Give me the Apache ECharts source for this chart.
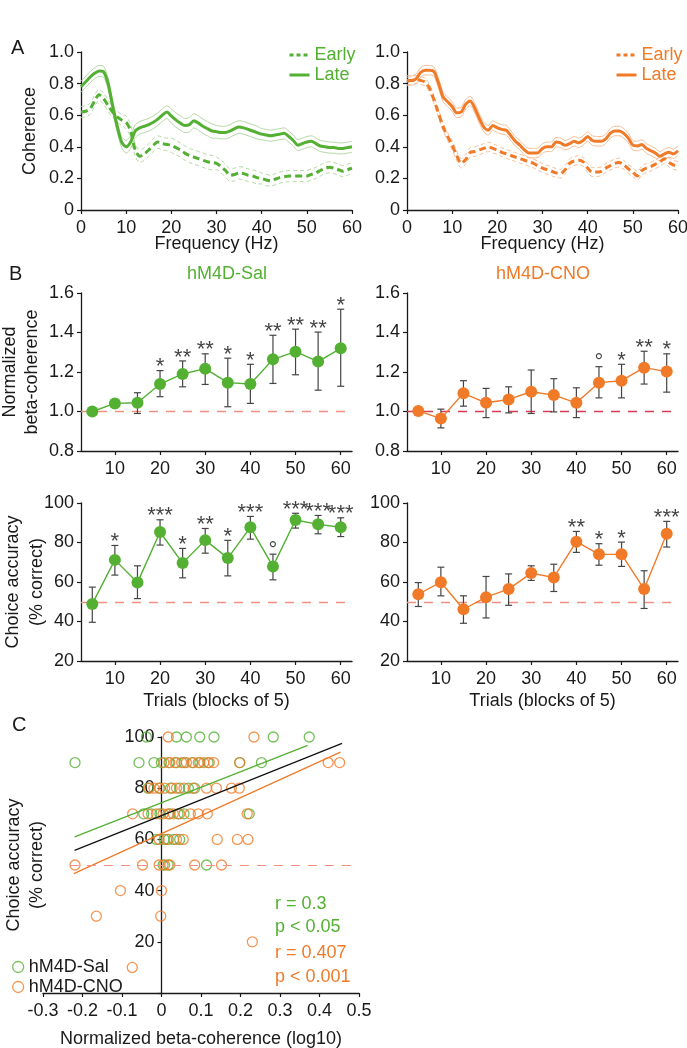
<!DOCTYPE html>
<html><head><meta charset="utf-8">
<script src="https://cdn.jsdelivr.net/npm/echarts@6/dist/echarts.min.js"></script>
<style>html,body{margin:0;padding:0;background:#fff}#c{width:687px;height:1048px}</style>
</head><body><div id="c"></div><script>
// ---------------- DATA ----------------
// Panel A: coherence spectra, 0..60 Hz in 1 Hz steps
const freqs = Array.from({length: 61}, (_, i) => i);
const salLate = [0.78,0.81,0.84,0.865,0.88,0.875,0.80,0.66,0.53,0.43,0.40,0.43,0.50,0.52,0.53,0.54,0.555,0.575,0.60,0.62,0.595,0.57,0.55,0.535,0.54,0.565,0.55,0.53,0.515,0.50,0.495,0.49,0.49,0.50,0.515,0.525,0.52,0.51,0.50,0.49,0.48,0.475,0.47,0.475,0.48,0.485,0.465,0.44,0.41,0.42,0.43,0.435,0.42,0.405,0.40,0.395,0.395,0.39,0.39,0.395,0.40];
const salEarly = [0.62,0.625,0.64,0.69,0.73,0.705,0.66,0.62,0.59,0.57,0.555,0.50,0.38,0.34,0.355,0.38,0.41,0.43,0.42,0.415,0.41,0.395,0.38,0.36,0.345,0.335,0.325,0.315,0.305,0.30,0.295,0.275,0.25,0.22,0.225,0.235,0.23,0.22,0.215,0.205,0.20,0.19,0.185,0.195,0.205,0.21,0.215,0.215,0.215,0.215,0.215,0.225,0.235,0.25,0.265,0.27,0.265,0.255,0.245,0.255,0.265];
const cnoLate = [0.82,0.82,0.83,0.87,0.885,0.885,0.875,0.80,0.715,0.685,0.655,0.615,0.62,0.67,0.69,0.645,0.58,0.525,0.505,0.535,0.52,0.51,0.505,0.47,0.435,0.41,0.38,0.36,0.36,0.362,0.39,0.40,0.40,0.43,0.425,0.41,0.42,0.435,0.425,0.44,0.465,0.44,0.435,0.435,0.45,0.485,0.50,0.50,0.485,0.455,0.41,0.405,0.415,0.39,0.375,0.36,0.34,0.355,0.365,0.355,0.375];
const cnoEarly = [0.815,0.82,0.825,0.82,0.81,0.77,0.695,0.61,0.525,0.465,0.41,0.345,0.295,0.32,0.365,0.37,0.38,0.39,0.40,0.39,0.38,0.365,0.355,0.345,0.335,0.325,0.315,0.305,0.295,0.28,0.265,0.255,0.245,0.235,0.23,0.255,0.295,0.31,0.315,0.305,0.265,0.24,0.24,0.245,0.265,0.28,0.295,0.30,0.285,0.26,0.24,0.215,0.25,0.265,0.275,0.29,0.305,0.325,0.30,0.285,0.28];
// SEM half-widths of the envelopes, one value per 10 Hz band (0-9, 10-19, ... 60)
const semSalLate  = [0.035,0.04,0.045,0.04,0.035,0.035,0.035];
const semSalEarly = [0.035,0.04,0.045,0.04,0.035,0.035,0.035];
const semCnoLate  = [0.03,0.03,0.03,0.03,0.03,0.03,0.03];
const semCnoEarly = [0.025,0.03,0.028,0.028,0.028,0.028,0.028];

// Panel B: trial blocks
const trials = [5,10,15,20,25,30,35,40,45,50,55,60];
const chanceBeta = 1.0;
const chanceAcc = 50;
const salBeta   = [1.0,1.041,1.044,1.139,1.19,1.217,1.146,1.139,1.264,1.303,1.253,1.32];
const salBetaLo = [null,null,0.99,1.075,1.125,1.137,1.024,1.041,1.142,1.186,1.108,1.128];
const salBetaHi = [null,null,1.095,1.207,1.256,1.292,1.27,1.239,1.386,1.417,1.402,1.518];
const salBetaSig = ['','','','*','**','**','*','*','**','**','**','*'];
const cnoBeta   = [1.003,0.964,1.092,1.044,1.061,1.10,1.083,1.044,1.146,1.156,1.222,1.202];
const cnoBetaLo = [null,0.917,1.027,0.969,0.993,0.99,0.998,0.969,1.069,1.069,1.139,1.098];
const cnoBetaHi = [null,1.012,1.156,1.117,1.125,1.21,1.166,1.12,1.227,1.239,1.305,1.292];
const cnoBetaSig = ['','','','','','','','','°','*','**','*'];
const salAcc   = [48.9,71.2,59.7,85.3,69.6,81.2,72.1,87.7,67.9,91.4,89.2,87.7];
const salAccLo = [39.6,63.5,51.6,78.7,62.1,74.6,63.1,81.7,61.1,87.3,84.4,83.0];
const salAccHi = [57.4,78.5,68.2,91.5,77.0,87.1,81.1,93.2,74.1,94.8,93.7,92.5];
const salAccSig = ['','*','','***','*','**','*','***','°','***','***','***'];
const cnoAcc   = [53.8,59.9,46.2,52.3,56.4,64.5,62.3,80.4,74.0,74.0,56.4,84.4];
const cnoAccLo = [47.6,53.0,39.1,41.8,48.2,60.8,55.2,75.0,68.5,67.9,46.6,77.7];
const cnoAccHi = [59.7,67.5,53.0,62.8,64.1,68.2,69.0,85.6,79.4,80.2,65.7,90.7];
const cnoAccSig = ['','','','','','','','**','*','*','','***'];
const trialTicks = [10,20,30,40,50,60];

// Panel C: scatter of normalized beta-coherence (log10) vs choice accuracy
const salCohX = [-0.038,0.038,0.063,0.097,0.133,0.283,0.374,
  -0.219,-0.057,-0.019,0.0,0.019,0.038,0.057,0.078,0.097,0.118,0.198,0.253,
  -0.034,-0.004,0.023,0.046,0.068,0.084,
  -0.045,-0.025,-0.004,0.021,0.042,0.057,0.222,
  -0.013,0.007,0.017,0.031,0.046,
  0.004,0.017,0.114];
const salAccY = [100,100,100,100,100,100,100,
  90,90,90,90,90,90,90,90,90,90,90,90,
  80,80,80,80,80,80,
  70,70,70,70,70,70,70,
  60,60,60,60,60,
  50,50,50];
const cnoCohX = [0.017,0.234,
  0.006,0.021,0.034,0.051,0.063,0.08,0.093,0.107,0.121,0.132,0.198,0.422,0.451,
  -0.031,-0.019,-0.006,0.008,0.027,0.038,0.057,0.08,0.114,0.139,0.177,0.197,
  -0.073,-0.034,-0.013,0.004,0.017,0.03,0.046,0.073,0.093,0.116,0.217,
  -0.006,0.013,0.038,0.055,0.141,0.192,0.219,
  -0.219,-0.048,-0.006,0.008,0.021,0.084,0.152,
  -0.104,0.0,-0.165,-0.002,0.23,-0.074];
const cnoAccY = [100,100,
  90,90,90,90,90,90,90,90,90,90,90,90,90,
  80,80,80,80,80,80,80,80,80,80,80,80,
  70,70,70,70,70,70,70,70,70,70,70,
  60,60,60,60,60,60,60,
  50,50,50,50,50,50,50,
  40,40,30,30,20,10];
const fitSalX = [-0.22, 0.37],  fitSalY = [61.0, 96.7];
const fitAllX = [-0.22, 0.457], fitAllY = [55.7, 97.5];
const fitCnoX = [-0.222, 0.453], fitCnoY = [46.6, 94.1];
const chanceLineX = [-0.232, 0.5];
const statsSal = ['r = 0.3', 'p < 0.05'];
const statsCno = ['r = 0.407', 'p < 0.001'];

// ---------------- STYLE ----------------
const GREEN = '#53b032', ORANGE = '#f07a28';
const GREEN_L = '#b4d8a5', ORANGE_L = '#f5bd96';
const SALMON = '#f0907f', CRIMSON = '#d53b52';
const INK = '#1a1a1a', ERR = '#454545';
const FONT = '"Liberation Sans", Arial, Helvetica, sans-serif';
const FS = 18;

const G = {
  aL: {left: 81, top: 52, width: 271, height: 158},
  aR: {left: 407, top: 52, width: 271, height: 158},
  b1L: {left: 81, top: 293, width: 271, height: 158},
  b1R: {left: 407, top: 293, width: 271, height: 158},
  b2L: {left: 81, top: 503, width: 271, height: 158},
  b2R: {left: 407, top: 503, width: 271, height: 158},
  c: {left: 43, top: 737, width: 316, height: 256}
};
const grids = [G.aL, G.aR, G.b1L, G.b1R, G.b2L, G.b2R, G.c].map(g => Object.assign({outerBoundsMode: 'none', containLabel: false}, g));
const cXMin = -0.3, cXMax = 0.5;
// y axis of panel C sits at x = 0 of its value axis
const cYAxisShift = -G.c.width * (0 - cXMin) / (cXMax - cXMin);

function baseAxis(gi, extra) {
  return Object.assign({
    type: 'value', gridIndex: gi, nameMoveOverlap: false,
    axisLine: {show: true, onZero: false, lineStyle: {color: INK, width: 1.3}},
    axisTick: {show: true, length: 4, lineStyle: {color: INK, width: 1.2}},
    axisLabel: {color: INK, fontSize: FS, fontFamily: FONT, margin: 7},
    splitLine: {show: false},
    nameTextStyle: {color: INK, fontSize: FS, fontFamily: FONT}
  }, extra);
}
const fmt1 = v => (v === 0 ? '0' : v.toFixed(1));

const xAxes = [
  baseAxis(0, {min: 0, max: 60, interval: 10, name: 'Frequency (Hz)', nameLocation: 'middle', nameGap: 25}),
  baseAxis(1, {min: 0, max: 60, interval: 10, name: 'Frequency (Hz)', nameLocation: 'middle', nameGap: 25}),
  baseAxis(2, {min: 2.5, max: 62.5}),
  baseAxis(3, {min: 2.5, max: 62.5}),
  baseAxis(4, {min: 2.5, max: 62.5, name: 'Trials (blocks of 5)', nameLocation: 'middle', nameGap: 31}),
  baseAxis(5, {min: 2.5, max: 62.5, name: 'Trials (blocks of 5)', nameLocation: 'middle', nameGap: 31}),
  baseAxis(6, {min: cXMin, max: cXMax, interval: 0.1, name: 'Normalized beta-coherence (log10)', nameLocation: 'middle', nameGap: 37})
];
for (let i = 0; i <= 6; i++) { xAxes[i].axisLabel.margin = 9; }
for (let i = 2; i <= 5; i++) {
  xAxes[i].axisTick.customValues = trialTicks;
  xAxes[i].axisLabel.customValues = trialTicks;
}
xAxes[6].axisLabel.formatter = v => String(Math.round(v * 10) / 10);

const yAxes = [
  baseAxis(0, {min: 0, max: 1, interval: 0.2, name: 'Coherence', nameLocation: 'middle', nameGap: 42}),
  baseAxis(1, {min: 0, max: 1, interval: 0.2}),
  baseAxis(2, {min: 0.8, max: 1.6, interval: 0.2, name: 'Normalized\nbeta-coherence', nameLocation: 'middle', nameGap: 38}),
  baseAxis(3, {min: 0.8, max: 1.6, interval: 0.2}),
  baseAxis(4, {min: 20, max: 100, interval: 20, name: 'Choice accuracy\n(% correct)', nameLocation: 'middle', nameGap: 32}),
  baseAxis(5, {min: 20, max: 100, interval: 20}),
  baseAxis(6, {min: 0, max: 100, interval: 20, offset: cYAxisShift, name: 'Choice accuracy\n(% correct)', nameLocation: 'middle', nameGap: 113})
];
[0, 1, 2, 3].forEach(i => { yAxes[i].axisLabel.formatter = fmt1; });
yAxes[6].axisLabel.formatter = v => (v === 0 ? '' : String(v));
yAxes[2].nameTextStyle.lineHeight = 22;
yAxes[4].nameTextStyle.lineHeight = 24;
yAxes[6].nameTextStyle.lineHeight = 23;

const series = [];

// ---- Panel A ----
function bandSem(sem, f) { return sem[Math.floor(f / 10)]; }
function addSpectrum(gi, name, vals, sem, color, light, dashed) {
  const common = {type: 'line', xAxisIndex: gi, yAxisIndex: gi, symbol: 'none', smooth: 0.25, silent: true, animation: false};
  series.push(Object.assign({}, common, {name: name + ' +', z: 2,
    data: freqs.map((f, i) => [f, vals[i] + bandSem(sem, f)]),
    lineStyle: {color: light, width: 1, type: dashed ? [4, 3] : 'solid'}}));
  series.push(Object.assign({}, common, {name: name + ' -', z: 2,
    data: freqs.map((f, i) => [f, vals[i] - bandSem(sem, f)]),
    lineStyle: {color: light, width: 1, type: dashed ? [4, 3] : 'solid'}}));
  series.push(Object.assign({}, common, {name: name, z: 3,
    data: freqs.map((f, i) => [f, vals[i]]),
    itemStyle: {color: color},
    lineStyle: {color: color, width: 3, type: dashed ? [7, 4] : 'solid'}}));
}
addSpectrum(0, 'Sal Early', salEarly, semSalEarly, GREEN, GREEN_L, true);
addSpectrum(0, 'Sal Late', salLate, semSalLate, GREEN, GREEN_L, false);
addSpectrum(1, 'CNO Early', cnoEarly, semCnoEarly, ORANGE, ORANGE_L, true);
addSpectrum(1, 'CNO Late', cnoLate, semCnoLate, ORANGE, ORANGE_L, false);

// ---- Panel B ----
function addBlock(gi, name, vals, lo, hi, sig, color, chance, chanceColor) {
  series.push({
    type: 'custom', xAxisIndex: gi, yAxisIndex: gi, z: 2, silent: true, animation: false,
    data: trials.map((t, i) => (lo[i] == null ? null : [t, lo[i], hi[i]])).filter(Boolean),
    encode: {x: 0, y: [1, 2]},
    renderItem: (params, api) => {
      const p1 = api.coord([api.value(0), api.value(1)]);
      const p2 = api.coord([api.value(0), api.value(2)]);
      const w = 3.5, st = {stroke: ERR, lineWidth: 1.2};
      return {type: 'group', children: [
        {type: 'line', shape: {x1: p1[0], y1: p1[1], x2: p2[0], y2: p2[1]}, style: st},
        {type: 'line', shape: {x1: p1[0] - w, y1: p1[1], x2: p1[0] + w, y2: p1[1]}, style: st},
        {type: 'line', shape: {x1: p2[0] - w, y1: p2[1], x2: p2[0] + w, y2: p2[1]}, style: st}
      ]};
    }
  });
  series.push({
    type: 'line', name: name, xAxisIndex: gi, yAxisIndex: gi, z: 4, silent: true, animation: false,
    data: trials.map((t, i) => [t, vals[i]]),
    symbol: 'circle', symbolSize: 12, showAllSymbol: true,
    itemStyle: {color: color}, lineStyle: {color: color, width: 1.4},
    markLine: {silent: true, symbol: 'none', label: {show: false}, animation: false, z: 1,
      lineStyle: {color: chanceColor, type: [9, 8], width: 1.3, opacity: 1}, data: [{yAxis: chance}]}
  });
  series.push({
    type: 'scatter', xAxisIndex: gi, yAxisIndex: gi, z: 5, silent: true, animation: false,
    symbolSize: 1, itemStyle: {color: 'transparent'},
    data: trials.map((t, i) => (sig[i] ? {name: sig[i], value: [t, hi[i] != null ? hi[i] : vals[i]]} : null)).filter(Boolean),
    label: {show: true, position: 'top', distance: 0, offset: [0, 8], formatter: '{b}',
      color: '#111111', fontSize: 22, fontFamily: FONT}
  });
}
addBlock(2, 'Sal beta', salBeta, salBetaLo, salBetaHi, salBetaSig, GREEN, chanceBeta, SALMON);
addBlock(3, 'CNO beta', cnoBeta, cnoBetaLo, cnoBetaHi, cnoBetaSig, ORANGE, chanceBeta, CRIMSON);
addBlock(4, 'Sal acc', salAcc, salAccLo, salAccHi, salAccSig, GREEN, chanceAcc, SALMON);
addBlock(5, 'CNO acc', cnoAcc, cnoAccLo, cnoAccHi, cnoAccSig, ORANGE, chanceAcc, SALMON);

// ---- Panel C ----
series.push({
  type: 'scatter', name: 'hM4D-Sal', xAxisIndex: 6, yAxisIndex: 6, z: 3, animation: false, clip: false,
  data: salCohX.map((x, i) => [x, salAccY[i]]), symbol: 'circle', symbolSize: 10,
  itemStyle: {color: 'transparent', borderColor: GREEN, borderWidth: 1.3},
  markLine: {silent: true, symbol: 'none', label: {show: false}, animation: false,
    lineStyle: {color: SALMON, type: [9, 8], width: 1.2},
    data: [[{coord: [chanceLineX[0], chanceAcc]}, {coord: [chanceLineX[1], chanceAcc]}]]}
});
series.push({
  type: 'scatter', name: 'hM4D-CNO', xAxisIndex: 6, yAxisIndex: 6, z: 3, animation: false, clip: false,
  data: cnoCohX.map((x, i) => [x, cnoAccY[i]]), symbol: 'circle', symbolSize: 10,
  itemStyle: {color: 'transparent', borderColor: ORANGE, borderWidth: 1.3}
});
function fitLine(xs, ys, color) {
  series.push({type: 'line', xAxisIndex: 6, yAxisIndex: 6, z: 4, silent: true, animation: false, symbol: 'none',
    data: xs.map((x, i) => [x, ys[i]]), lineStyle: {color: color, width: 1.3}});
}
fitLine(fitSalX, fitSalY, GREEN);
fitLine(fitAllX, fitAllY, '#111111');
fitLine(fitCnoX, fitCnoY, ORANGE);

// ---------------- OPTION ----------------
const legendText = {fontSize: FS, fontFamily: FONT, lineHeight: 16};
function specLegendItem(name, color, dashed) {
  return {name: name, itemStyle: {color: 'transparent', borderWidth: 0, opacity: 0},
    lineStyle: {color: color, width: 3, type: dashed ? [4, 3] : 'solid', opacity: 1}};
}
const option = {
  animation: false,
  backgroundColor: '#ffffff',
  textStyle: {fontFamily: FONT, color: INK},
  grid: grids,
  xAxis: xAxes,
  yAxis: yAxes,
  title: [
    {text: 'A', left: 6, top: 33, textStyle: {fontSize: 20, fontWeight: 'normal', color: INK, fontFamily: FONT}},
    {text: 'B', left: 4, top: 259, textStyle: {fontSize: 20, fontWeight: 'normal', color: INK, fontFamily: FONT}},
    {text: 'C', left: 7, top: 710, textStyle: {fontSize: 20, fontWeight: 'normal', color: INK, fontFamily: FONT}},
    {text: 'hM4D-Sal', left: 222, top: 260, textAlign: 'center', textStyle: {fontSize: FS, fontWeight: 'normal', color: GREEN, fontFamily: FONT}},
    {text: 'hM4D-CNO', left: 538, top: 260, textAlign: 'center', textStyle: {fontSize: FS, fontWeight: 'normal', color: ORANGE, fontFamily: FONT}}
  ],
  legend: [
    {data: [specLegendItem('Sal Early', GREEN, true), specLegendItem('Sal Late', GREEN, false)],
      orient: 'vertical', left: 283, top: 41, itemWidth: 20, itemHeight: 12, itemGap: 2,
      formatter: n => n.split(' ')[1], textStyle: Object.assign({color: GREEN}, legendText), selectedMode: false},
    {data: [specLegendItem('CNO Early', ORANGE, true), specLegendItem('CNO Late', ORANGE, false)],
      orient: 'vertical', left: 610, top: 41, itemWidth: 20, itemHeight: 12, itemGap: 2,
      formatter: n => n.split(' ')[1], textStyle: Object.assign({color: ORANGE}, legendText), selectedMode: false},
    {data: [
        {name: 'hM4D-Sal', itemStyle: {color: 'transparent', borderColor: GREEN, borderWidth: 1.3}},
        {name: 'hM4D-CNO', itemStyle: {color: 'transparent', borderColor: ORANGE, borderWidth: 1.3}}],
      orient: 'vertical', left: 7, top: 953, icon: 'circle', itemWidth: 11, itemHeight: 11, itemGap: 2,
      textStyle: {fontSize: FS, fontFamily: FONT, color: INK, lineHeight: 16}, selectedMode: false}
  ],
  graphic: [
    {type: 'text', left: 275, top: 895, style: {text: statsSal[0], fill: GREEN, font: FS + 'px ' + FONT}},
    {type: 'text', left: 275, top: 918, style: {text: statsSal[1], fill: GREEN, font: FS + 'px ' + FONT}},
    {type: 'text', left: 275, top: 944, style: {text: statsCno[0], fill: ORANGE, font: FS + 'px ' + FONT}},
    {type: 'text', left: 275, top: 968, style: {text: statsCno[1], fill: ORANGE, font: FS + 'px ' + FONT}}
  ],
  series: series
};
const chart = echarts.init(document.getElementById('c'), null, {renderer: 'canvas'});
chart.setOption(option);
</script></body></html>
